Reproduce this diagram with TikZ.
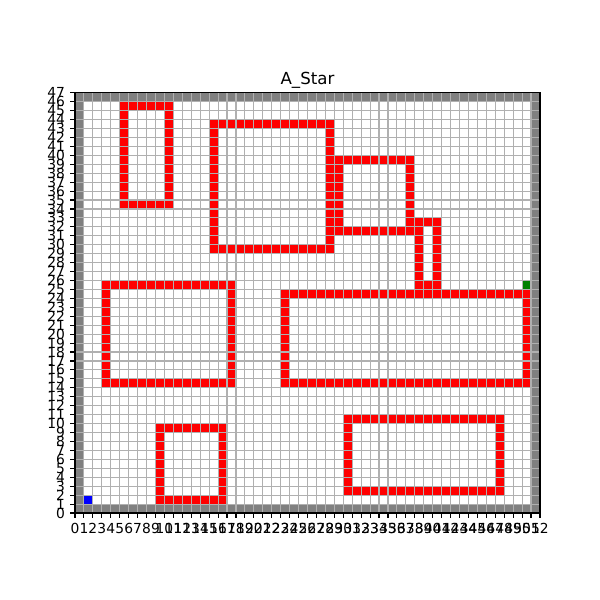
\documentclass[tikz,border=0pt]{standalone}
\usepackage{fontspec}
\setmainfont{DejaVu Sans}
\definecolor{wallgray}{HTML}{808080}
\definecolor{gridgray}{HTML}{B0B0B0}
\definecolor{goalgreen}{HTML}{008000}

% hollow obstacle of cells, corners given as cell indices
\newcommand{\obst}[4]{\fill[obstacle] (#1,#2) rectangle ({#3+1},{#4+1}) ({#1+1},{#2+1}) rectangle (#3,#4);}

\begin{document}
\begin{tikzpicture}[
    x=6.4382bp, y=6.4382bp,
    wall/.style={fill=wallgray, even odd rule},
    obstacle/.style={fill=red, even odd rule},
    startcell/.style={fill=blue},
    goalcell/.style={fill=goalgreen},
    gridline/.style={draw=gridgray, line width=0.8pt},
    spine/.style={draw=black, line width=0.8pt},
    ticklabel/.style={font=\fontsize{10}{12}\selectfont, inner sep=0pt},
]
    \useasboundingbox[fill=white] (-8.3874,-9.7294) rectangle (58.712,57.370);

    % walls round the map
    \fill[wall] (0,0) rectangle (52,47) (1,1) rectangle (51,46);

    % obstacles
    \obst{5}{34}{10}{45}
    \obst{15}{29}{28}{43}
    \obst{29}{31}{37}{39}
    \obst{38}{25}{40}{32}
    \obst{23}{14}{50}{24}
    \obst{3}{14}{17}{25}
    \obst{9}{1}{16}{9}
    \obst{30}{2}{47}{10}

    % start and goal
    \fill[startcell] (1,1) rectangle ++(1,1);
    \fill[goalcell] (50,25) rectangle ++(1,1);

    % grid and axes
    \draw[gridline, step=1] (0,0) grid (52,47);
    \draw[spine] (0,0) rectangle (52,47);

    \foreach \i in {0,...,52} {
        \draw[spine] (\i,0) -- ++(0,-3.5pt);
        \node[ticklabel, anchor=north, yshift=-7pt] (xt\i) at (\i,0) {\i};
    }
    \foreach \j in {0,...,47} {
        \draw[spine] (0,\j) -- ++(-3.5pt,0);
        \node[ticklabel, anchor=east, xshift=-7pt] (yt\j) at (0,\j) {\j};
    }

    \node[font=\fontsize{12}{14}\selectfont, anchor=base, inner sep=0pt, yshift=6pt] (title) at (26,47) {A\_Star};

\end{tikzpicture}
\end{document}
